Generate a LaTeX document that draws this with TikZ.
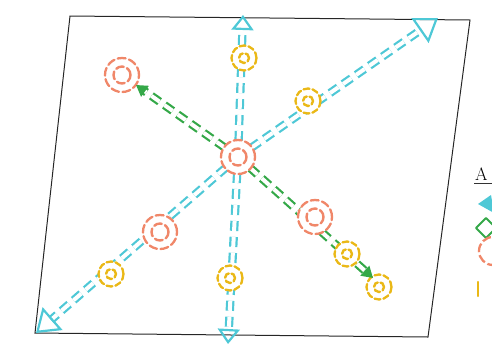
\documentclass[tikz,border=0pt]{standalone}
\usetikzlibrary{arrows.meta,calc}
\definecolor{cy}{RGB}{78,200,214}
\definecolor{gr}{RGB}{52,168,72}
\definecolor{orn}{RGB}{240,135,105}
\definecolor{yel}{RGB}{234,184,22}
\tikzset{
  frame/.style={draw=black!85, line width=1pt},
  cyline/.style={draw=cy, line width=2.2pt, double=white, double distance=4pt, dash pattern=on 10pt off 6pt, line cap=butt},
  grline/.style={draw=gr, line width=2.2pt, double=white, double distance=4pt, dash pattern=on 10pt off 6pt, line cap=butt},
  cyhead/.style={draw=cy, line width=2.2pt, line join=round, -{Triangle[open,length=15pt,width=22pt,line width=2.2pt]}},
  cybig/.style={draw=cy, line width=2.2pt, line join=round, -{Triangle[open,length=22pt,width=30pt,line width=2.2pt]}},
  grhead/.style={draw=gr, line width=2pt, -{Triangle[length=11pt,width=13pt]}},
  onode/.style={circle, draw=orn, fill=white, line width=2.3pt, minimum size=34pt, inner sep=0pt,
    dash pattern=on 8pt off 3.5pt, line cap=round,
    path picture={\draw[orn, line width=2.4pt] (path picture bounding box.center) circle (8.5pt);}},
  ynode/.style={circle, draw=yel, fill=white, line width=2.3pt, minimum size=25pt, inner sep=0pt,
    dash pattern=on 6pt off 3pt, line cap=round,
    path picture={\draw[yel, line width=2.4pt] (path picture bounding box.center) circle (5pt);}},
}
\begin{document}
\begin{tikzpicture}[x=1pt,y=-1pt]
\useasboundingbox (0,0) rectangle (492,349);
\clip (0,0) rectangle (492,349);
% frame
\draw[frame] (70,16) coordinate (f1) -- (470,20) coordinate (f2) -- (428,337) coordinate (f3) -- (35,333) coordinate (f4) -- cycle;
% end points
\coordinate (eu) at (243,15);
\coordinate (ed) at (228,344);
\coordinate (eur) at (438,18);
\coordinate (edl) at (36,333);
\coordinate (egl) at (136,85);
\coordinate (egr) at (373,278);
% connectors (drawn before nodes)
\path (238,157) coordinate (cc);
\draw[cyline] (cc) -- ($(eu)!14pt!(cc)$) coordinate (eu0);
\draw[cyline] (cc) -- ($(ed)!14pt!(cc)$) coordinate (ed0);
\draw[cyline] (cc) -- ($(eur)!20pt!(cc)$) coordinate (eur0);
\draw[cyline] (cc) -- ($(edl)!20pt!(cc)$) coordinate (edl0);
\draw[grline] (cc) -- ($(egl)!10pt!(cc)$) coordinate (egl0);
\draw[grline] (cc) -- ($(egr)!10pt!(cc)$) coordinate (egr0);
% nodes
\node[onode] (c) at (238,157) {};
\node[onode] (o1) at (122,75) {};
\node[onode] (o2) at (160,232) {};
\node[onode] (o3) at (315,217) {};
\node[ynode] (y1) at (244,58) {};
\node[ynode] (y2) at (308,101) {};
\node[ynode] (y3) at (111,274) {};
\node[ynode] (y4) at (230,278) {};
\node[ynode] (y5) at (347,254) {};
\node[ynode] (y6) at (379,287) {};
% arrow heads
\draw[cyhead] (eu0) -- (eu);
\draw[cyhead] (ed0) -- (ed);
\draw[cybig] (eur0) -- (eur);
\draw[cybig] (edl0) -- (edl);
\draw[grhead] (egl0) -- (egl);
\draw[grhead] (egr0) -- (egr);
% clipped legend at the right edge
\node[anchor=south west, inner sep=0pt, font=\fontsize{18}{18}\selectfont] (lt) at (475,181) {A};
\draw[black!80, line width=1pt] (474,183) -- (492,183);
\fill[cy] (478,204) -- (491,195) -- (494,213) -- cycle;
\draw[gr, line width=2pt, line join=round] (476,228) -- (486,218) -- (496,228) -- (486,238) -- cycle;
\draw[orn, line width=2.3pt, dash pattern=on 9pt off 3pt] (493,251) circle (14pt);
\draw[yel, line width=2.4pt, line cap=round] (478,282) -- (478,296);
\end{tikzpicture}
\end{document}
